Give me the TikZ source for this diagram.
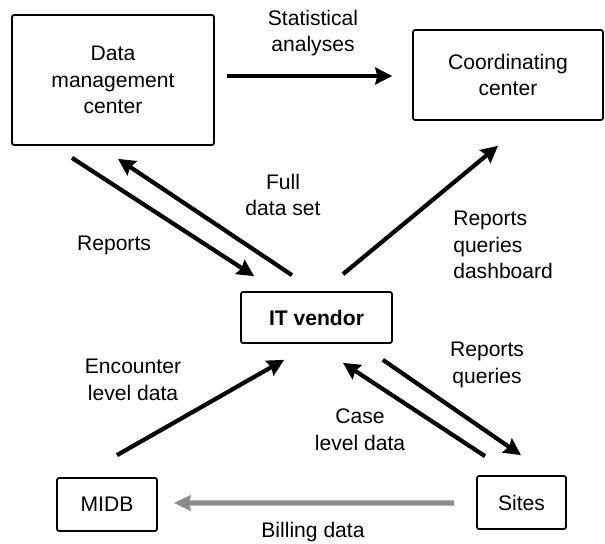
\documentclass[tikz,border=0pt]{standalone}
\usepackage{fontspec}
\setmainfont{Liberation Sans}
\usetikzlibrary{arrows.meta}

\begin{document}
\begin{tikzpicture}[x=0.025cm, y=-0.025cm,
    font=\fontsize{15}{19}\selectfont,
    unit/.style={draw=black, line width=1.2pt, rounded corners=1.5pt, inner sep=0pt, align=center},
    flow/.style={line width=3pt, -{Stealth[length=12pt, width=12pt, inset=1.5pt]}},
    billing/.style={draw=black!45, line width=3.6pt, -{Stealth[length=12pt, width=11pt, inset=1.5pt]}},
    note/.style={align=center, inner sep=0pt}]
      \useasboundingbox (0,0) rectangle (605,544);

      % boxes
      \node[unit, minimum width=5.05cm, minimum height=3.25cm] (dmc) at (113,80) {Data\\management\\center};
      \node[unit, minimum width=4.75cm, minimum height=2.25cm] (cc) at (508,75) {Coordinating\\center};
      \node[unit, minimum width=3.775cm, minimum height=1.275cm, font=\fontsize{15}{19}\selectfont\bfseries] (itv) at (316.5,317.5) {IT vendor};
      \node[unit, minimum width=2.5cm, minimum height=1.325cm] (midb) at (107,504.5) {MIDB};
      \node[unit, minimum width=2.225cm, minimum height=1.325cm] (sites) at (521.5,502.5) {Sites};

      % arrows
      \draw[flow] ([shift={(12,-4)}]dmc.east) -- ([shift={(-20,1)}]cc.west);
      \draw[flow] ([shift={(-41,12)}]dmc.south) -- ([shift={(14,-15)}]itv.north west);
      \draw[flow] ([shift={(-24.5,-16)}]itv.north) -- ([shift={(5,13)}]dmc.south);
      \draw[flow] ([shift={(26.5,-17)}]itv.north) -- ([shift={(-10,25)}]cc.south);
      \draw[flow] ([shift={(-10,16)}]itv.south east) -- ([shift={(-0.5,-20)}]sites.north);
      \draw[flow] ([shift={(-36.5,-19)}]sites.north) -- ([shift={(26.5,19)}]itv.south);
      \draw[flow] ([shift={(10,-22)}]midb.north) -- ([shift={(44,16)}]itv.south west);
      \draw[billing] ([shift={(-22,0.5)}]sites.west) -- ([shift={(16,-1.5)}]midb.east);

      % labels
      \node[note] (lstat) at (313,33) {Statistical\\analyses};
      \node[note] (lrep) at (114,245) {Reports};
      \node[note] (lfull) at (283,195) {Full\\data set};
      \node[note, align=left, anchor=west] (ldash) at (453,245) {Reports\\queries\\dashboard};
      \node[note] (lquery) at (487,365) {Reports\\queries};
      \node[note] (lcase) at (360,430) {Case\\level data};
      \node[note] (lenc) at (133,380) {Encounter\\level data};
      \node[note] (lbill) at (313,532) {Billing data};
\end{tikzpicture}
\end{document}
